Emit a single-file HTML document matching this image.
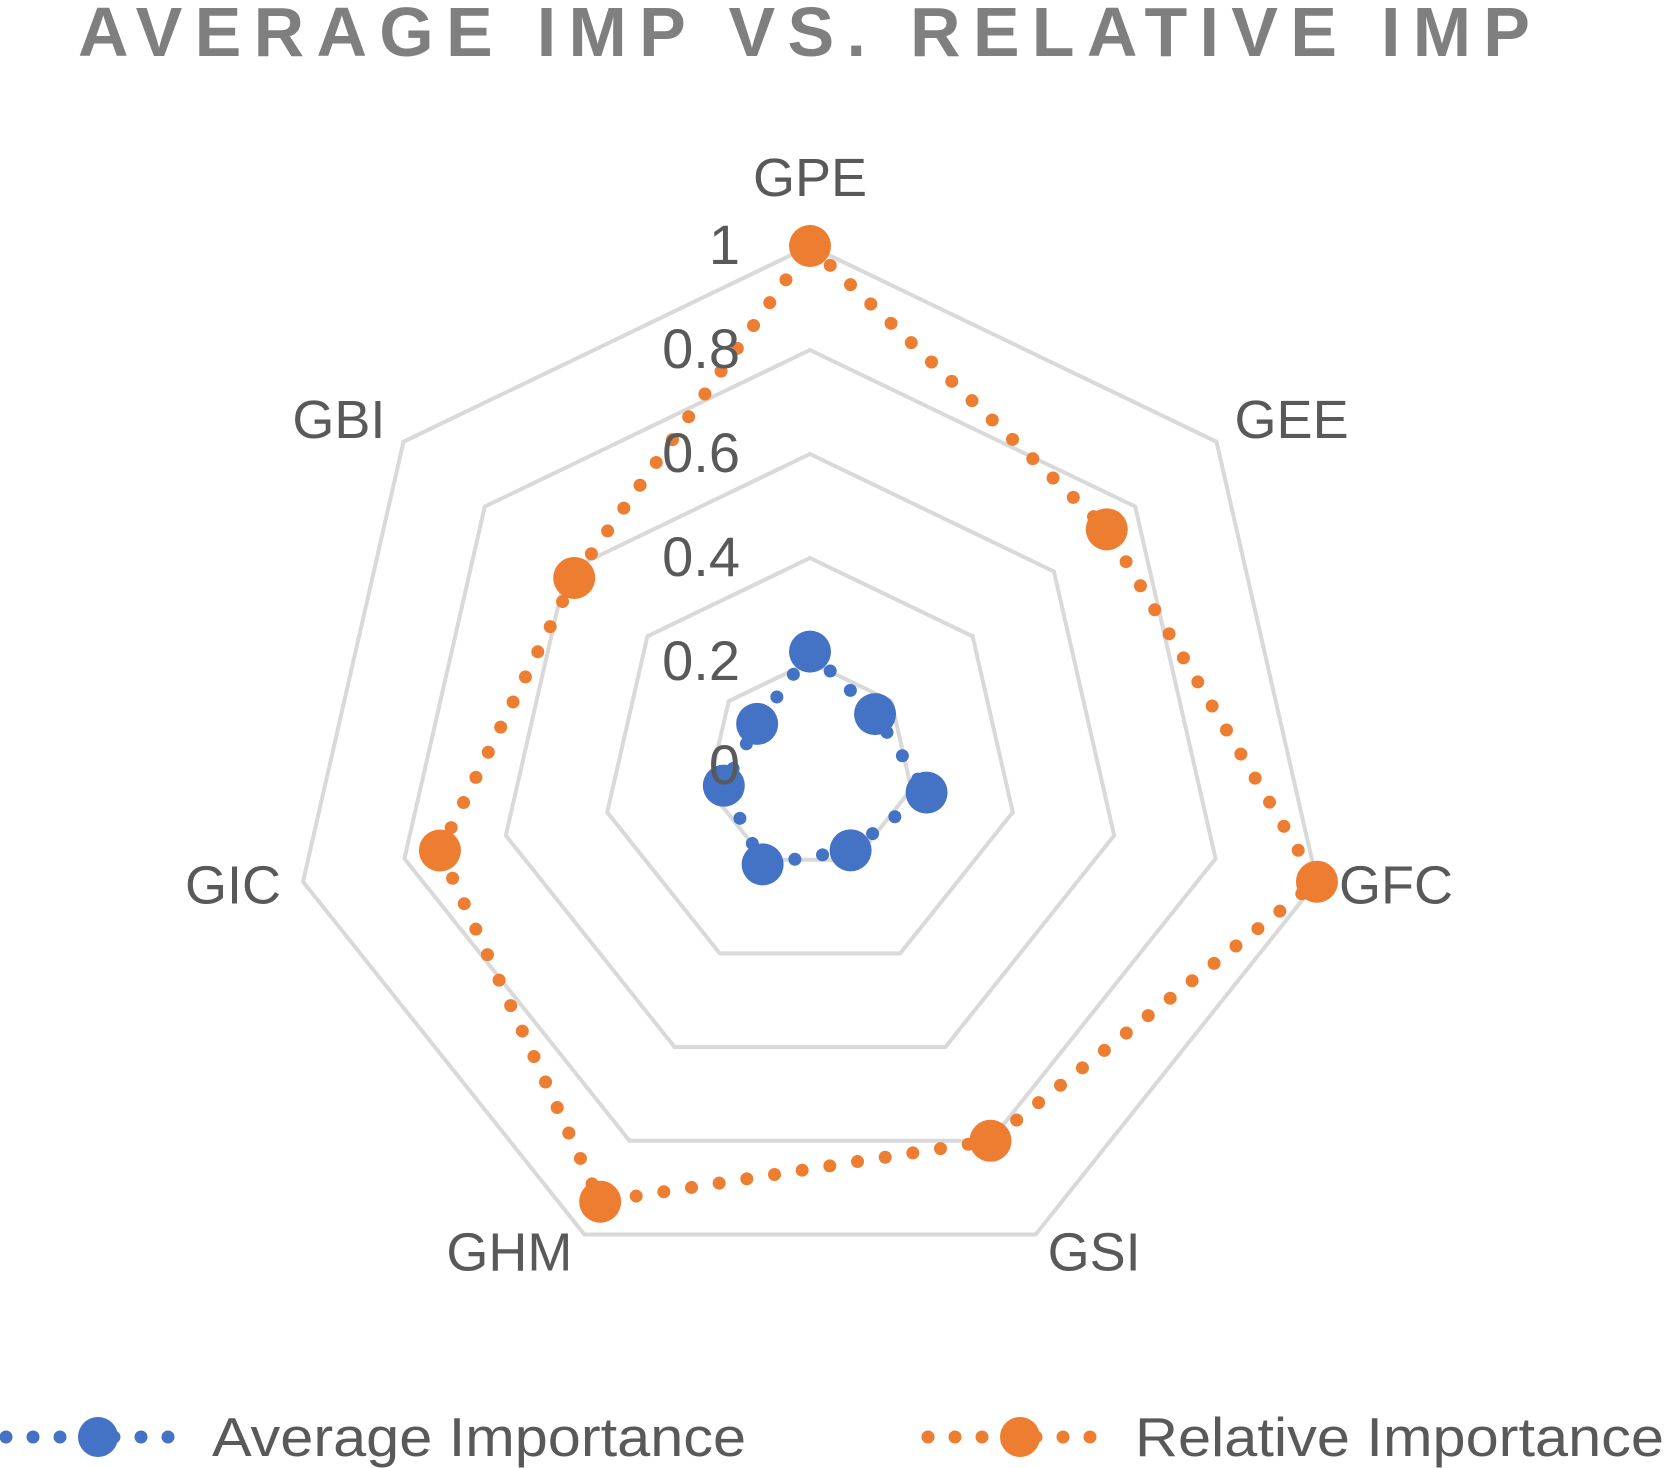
<!DOCTYPE html>
<html><head><meta charset="utf-8"><style>
html,body{margin:0;padding:0;background:#fff;}
svg{display:block;font-family:"Liberation Sans",sans-serif;}
</style></head><body>
<svg id="chart" width="1667" height="1468" viewBox="0 0 1667 1468" xmlns="http://www.w3.org/2000/svg">
<text x="78" y="56" textLength="1452" lengthAdjust="spacing" font-size="70" font-weight="bold" fill="#7f7f7f">AVERAGE IMP VS. RELATIVE IMP</text>
<g id="grid"></g><g id="series"></g><g id="labels"></g>
<g>
<g>
<line x1="6" y1="1437" x2="186" y2="1437" stroke="#4472c4" stroke-width="13" stroke-linecap="round" stroke-dasharray="0 27"/>
<circle cx="98" cy="1437" r="20" fill="#4472c4"/>
<text x="212" y="1456" font-size="55" textLength="534" lengthAdjust="spacingAndGlyphs" fill="#595959">Average Importance</text></g>
<g>
<line x1="928" y1="1437" x2="1110" y2="1437" stroke="#ed7d31" stroke-width="13" stroke-linecap="round" stroke-dasharray="0 27"/>
<circle cx="1020" cy="1437" r="20" fill="#ed7d31"/>
<text x="1135" y="1456" font-size="55" textLength="529" lengthAdjust="spacingAndGlyphs" fill="#595959">Relative Importance</text></g>
</g>
</svg>
<script>
const categories=["GPE","GEE","GFC","GSI","GHM","GIC","GBI"];
const averageImportance=[0.22,0.16,0.23,0.18,0.21,0.17,0.13];
const relativeImportance=[1.0,0.73,1.0,0.80,0.93,0.73,0.58];
const ticks=[0,0.2,0.4,0.6,0.8,1];
const tickLabels=["0","0.2","0.4","0.6","0.8","1"];
const NS="http://www.w3.org/2000/svg";
const cx=810,cy=766,R=520,n=categories.length;
function pt(i,v){const a=2*Math.PI*i/n;return [cx+R*v*Math.sin(a),cy-R*v*Math.cos(a)];}
function mk(t,attrs,parent){const e=document.createElementNS(NS,t);for(const k in attrs)e.setAttribute(k,attrs[k]);parent.appendChild(e);return e;}
const grid=document.getElementById('grid'),ser=document.getElementById('series'),lab=document.getElementById('labels');
ticks.forEach((t,j)=>{if(t===0)return;
 const p=categories.map((c,i)=>pt(i,t).join(',')).join(' ');
 const e=mk('polygon',{points:p,fill:'none',stroke:'#d9d9d9','stroke-width':4},grid);
 
 
});
ticks.forEach((t,j)=>{const [x,y]=pt(0,t);
 const e=mk('text',{x:x-70,y:y+18,'text-anchor':'end','font-size':56,fill:'#595959'},lab);e.textContent=tickLabels[j];
 
 
});
const labelOff=[[0,-50,'middle'],[18,-4,'start'],[22,22,'start'],[12,36,'start'],[-12,36,'end'],[-22,22,'end'],[-18,-4,'end']];
categories.forEach((c,i)=>{const [x,y]=pt(i,1);const o=labelOff[i];
 const e=mk('text',{x:x+o[0],y:y+o[1],'text-anchor':o[2],'font-size':54,fill:'#595959'},lab);e.textContent=c;
 
 
});
function drawSeries(vals,color,name){
 const p=vals.map((v,i)=>pt(i,v));
 const e=mk('polygon',{points:p.map(q=>q.join(',')).join(' '),fill:'none',stroke:color,'stroke-width':13,'stroke-linecap':'round','stroke-dasharray':'0 28'},ser);
 
 
 p.forEach((q,i)=>{const m=mk('circle',{cx:q[0],cy:q[1],r:21,fill:color},ser);
  
  });
}
drawSeries(relativeImportance,'#ed7d31','relative-importance');
drawSeries(averageImportance,'#4472c4','average-importance');
</script>
</body></html>
